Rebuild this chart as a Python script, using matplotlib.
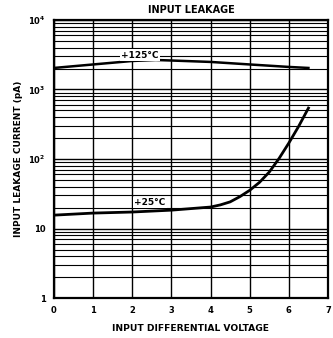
import matplotlib.pyplot as plt
from matplotlib.ticker import FixedLocator, LogLocator, NullFormatter

# +125 C curve
v_hot = [0, 1, 2, 2.6, 3, 4, 5, 6, 6.5]
i_hot = [2040, 2290, 2570, 2655, 2610, 2490, 2290, 2110, 2040]

# +25 C curve
v_room = [0, 1, 2, 3, 4, 4.25, 4.5, 4.75, 5.0, 5.25, 5.5, 5.75, 6.0, 6.25, 6.5]
i_room = [15.6, 16.7, 17.3, 18.4, 20.4, 21.9, 24.2, 28.8, 35.5, 46.2, 65, 102, 170, 295, 540]

x_ticks = [0, 1, 2, 3, 4, 5, 6, 7]
y_ticks = [1, 10, 100, 1000, 10000]
y_labels = ['1', '10', '10$^{2}$', '10$^{3}$', '10$^{4}$']

plt.rcParams['font.family'] = 'DejaVu Sans'
plt.rcParams['font.weight'] = 'bold'

fig = plt.figure(figsize=(3.33, 3.38), dpi=100)
ax = fig.add_axes([0.162, 0.118, 0.823, 0.823])

ax.set_yscale('log')
ax.set_xlim(0, 7)
ax.set_ylim(1, 10000)

ax.xaxis.set_major_locator(FixedLocator(x_ticks))
ax.yaxis.set_major_locator(FixedLocator(y_ticks))
ax.yaxis.set_minor_locator(LogLocator(base=10, subs=range(2, 10)))
ax.yaxis.set_minor_formatter(NullFormatter())
ax.set_xticklabels([str(t) for t in x_ticks], fontsize=6, fontweight='bold')
ax.set_yticklabels(y_labels, fontsize=6, fontweight='bold')
ax.tick_params(which='both', length=0, pad=6)

ax.grid(True, which='major', axis='both', color='black', lw=1.0)
ax.grid(True, which='minor', axis='y', color='black', lw=0.8)
for s in ax.spines.values():
    s.set_linewidth(1.6)

ax.plot(v_hot, i_hot, color='black', lw=1.8, zorder=3)
ax.plot(v_room, i_room, color='black', lw=2.0, zorder=3)

box = dict(facecolor='white', edgecolor='none', pad=1)
ax.text(2.2, 3130, '+125°C', fontsize=6.5, fontweight='bold', ha='center', va='center', bbox=box, zorder=4)
ax.text(2.45, 23.8, '+25°C', fontsize=6.5, fontweight='bold', ha='center', va='center', bbox=box, zorder=4)

ax.set_title('INPUT LEAKAGE', fontsize=7, fontweight='bold', pad=5)
ax.set_xlabel('INPUT DIFFERENTIAL VOLTAGE', fontsize=6.6, fontweight='bold', labelpad=6)
ax.set_ylabel('INPUT LEAKAGE CURRENT (pA)', fontsize=6.5, fontweight='bold', labelpad=4)

fig.savefig('out.png', dpi=100)
